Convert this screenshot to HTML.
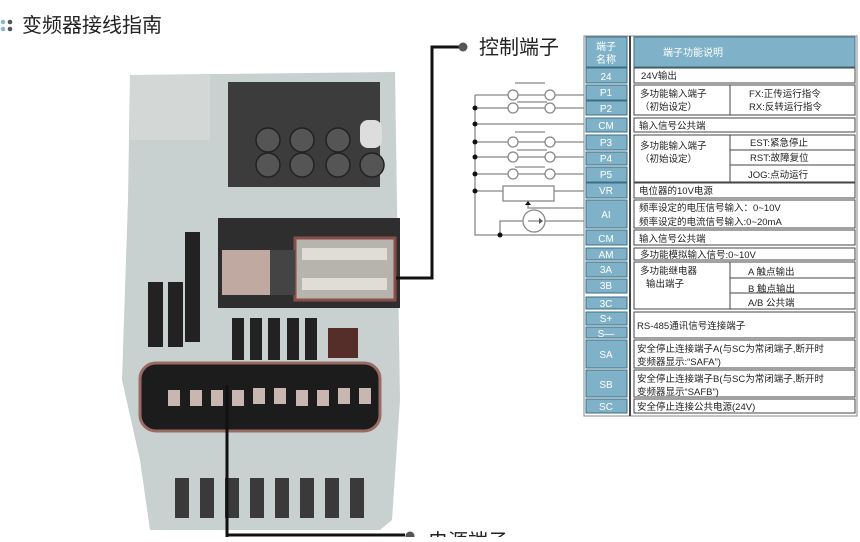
<!DOCTYPE html>
<html><head><meta charset="utf-8"><style>
body{margin:0;width:860px;height:537px;overflow:hidden;background:#fff;font-family:"Liberation Sans","Noto Sans CJK SC",sans-serif;}
</style></head><body>
<svg width="860" height="537" viewBox="0 0 860 537" xmlns="http://www.w3.org/2000/svg" font-family="Liberation Sans, Noto Sans CJK SC, sans-serif">
<!-- title -->
<circle cx="3" cy="22" r="2.3" fill="#8ab8cc"/><circle cx="3" cy="29" r="2.3" fill="#8ab8cc"/>
<circle cx="10" cy="22" r="2.3" fill="#555"/><circle cx="10" cy="29" r="2.3" fill="#555"/>
<text x="22" y="32" font-size="20" fill="#222">变频器接线指南</text>

<!-- device -->
<g>
<path d="M130 75 L395 72 L400 400 L392 520 L380 530 L150 530 L140 460 L122 380 L128 200 Z" fill="#c9d0d0"/>
<rect x="130" y="75" width="80" height="65" fill="#d3d8d6"/>
<rect x="228" y="82" width="152" height="105" fill="#3c3c3c"/>
<g fill="#555" stroke="#222" stroke-width="1.5">
<circle cx="268" cy="140" r="12"/><circle cx="302" cy="140" r="12"/><circle cx="338" cy="140" r="12"/>
<circle cx="268" cy="165" r="12"/><circle cx="302" cy="165" r="12"/><circle cx="338" cy="165" r="12"/><circle cx="372" cy="165" r="12"/>
</g>
<rect x="360" y="120" width="22" height="28" rx="8" fill="#ddd"/>
<rect x="218" y="218" width="182" height="90" fill="#2e2e2e"/>
<rect x="295" y="238" width="100" height="62" fill="#b7b3ad" stroke="#8a4e4a" stroke-width="3"/>
<rect x="302" y="248" width="85" height="12" fill="#e0dcd6"/><rect x="302" y="278" width="85" height="12" fill="#e0dcd6"/>
<rect x="222" y="250" width="50" height="45" fill="#c0a9a0"/>
<rect x="270" y="250" width="25" height="45" fill="#444"/>
<rect x="185" y="232" width="15" height="110" fill="#222"/>
<rect x="148" y="282" width="15" height="65" fill="#222"/><rect x="168" y="282" width="15" height="65" fill="#222"/>
<g fill="#222"><rect x="232" y="318" width="12" height="42"/><rect x="250" y="318" width="12" height="42"/><rect x="268" y="318" width="12" height="42"/><rect x="287" y="318" width="12" height="42"/><rect x="305" y="318" width="12" height="42"/></g>
<rect x="328" y="328" width="30" height="30" fill="#552e2a"/>
<rect x="140" y="363" width="240" height="68" rx="16" fill="#1c1c1c" stroke="#9a6a64" stroke-width="3"/>
<g fill="#c8b7b0">
<rect x="168" y="390" width="12" height="16"/><rect x="190" y="390" width="12" height="16"/><rect x="211" y="390" width="12" height="16"/><rect x="232" y="390" width="12" height="16"/><rect x="253" y="388" width="12" height="16"/><rect x="274" y="388" width="12" height="16"/><rect x="296" y="390" width="12" height="16"/><rect x="317" y="390" width="12" height="16"/><rect x="338" y="388" width="12" height="16"/><rect x="359" y="388" width="12" height="16"/>
</g>
<g fill="#3a3a3a"><rect x="175" y="478" width="14" height="40"/><rect x="200" y="478" width="14" height="40"/><rect x="225" y="478" width="14" height="40"/><rect x="250" y="478" width="14" height="40"/><rect x="275" y="478" width="14" height="40"/><rect x="300" y="478" width="14" height="40"/><rect x="325" y="478" width="14" height="40"/><rect x="350" y="478" width="14" height="40"/></g>
</g>

<!-- leaders -->
<g stroke="#111" stroke-width="3" fill="none">
<path d="M396 278 L432 278 L432 47 L460 47"/>
<path d="M227 385 L227 537"/>
<path d="M227 535 L405 535"/>
</g>
<circle cx="463" cy="47" r="4.5" fill="#555"/>
<circle cx="410" cy="536" r="4.5" fill="#555"/>
<text x="479" y="54" font-size="20" fill="#222">控制端子</text>
<text x="428" y="548" font-size="20" fill="#222">电源端子</text>

<!-- circuit -->
<g stroke="#888" stroke-width="1.3" fill="none">
<path d="M475 95 L475 235 L587 235"/>
<path d="M475 95 L508 95 M518 95 L545 95 M555 95 L587 95"/>
<path d="M475 108 L508 108 M518 108 L545 108 M555 108 L587 108"/>
<path d="M475 124 L587 124"/>
<path d="M475 142 L508 142 M518 142 L545 142 M555 142 L587 142"/>
<path d="M475 157 L508 157 M518 157 L545 157 M555 157 L587 157"/>
<path d="M475 174 L508 174 M518 174 L545 174 M555 174 L587 174"/>
<path d="M475 191 L503 191 M554 191 L587 191"/>
<rect x="503" y="186" width="51" height="15"/>
<path d="M528 204 L528 208 L587 208"/>
<circle cx="534" cy="221" r="11"/>
<path d="M500 235 L500 221 L523 221 M545 221 L587 221"/>
<path d="M528 221 L539 221"/>
<path d="M515 83 L545 83 M515 132 L545 132 M515 167 L545 167"/>
<path d="M517 102 L547 102 M517 150 L547 150"/>
</g>
<path d="M525 205 L531 205 L528 201 Z" fill="#111"/>
<path d="M539 218 L539 224 L543 221 Z" fill="#555"/>
<g fill="#fff" stroke="#888" stroke-width="1.3">
<circle cx="513" cy="95" r="5"/><circle cx="550" cy="95" r="5"/><circle cx="513" cy="108" r="5"/><circle cx="550" cy="108" r="5"/>
<circle cx="513" cy="142" r="5"/><circle cx="550" cy="142" r="5"/><circle cx="513" cy="157" r="5"/><circle cx="550" cy="157" r="5"/>
<circle cx="513" cy="174" r="5"/><circle cx="550" cy="174" r="5"/>
</g>
<g fill="#111"><circle cx="475" cy="108" r="2.5"/><circle cx="475" cy="124" r="2.5"/><circle cx="475" cy="142" r="2.5"/><circle cx="475" cy="157" r="2.5"/><circle cx="475" cy="174" r="2.5"/><circle cx="475" cy="191" r="2.5"/><circle cx="500" cy="235" r="2.5"/></g>

<!-- table -->
<rect x="584" y="36" width="273" height="380" fill="#fff" stroke="#888" stroke-width="1"/>
<line x1="630" y1="36" x2="630" y2="416" stroke="#444" stroke-width="2"/>
<g fill="#7fb2c8" stroke="#3d6e85" stroke-width="1">
<rect x="586" y="37" width="41" height="30"/>
<rect x="634" y="37" width="221" height="30"/>
<rect x="586" y="68" width="41" height="15"/><rect x="586" y="85" width="41" height="15"/><rect x="586" y="101" width="41" height="14"/>
<rect x="586" y="118" width="41" height="14"/><rect x="586" y="135" width="41" height="15"/><rect x="586" y="152" width="41" height="13"/>
<rect x="586" y="167" width="41" height="15"/><rect x="586" y="183" width="41" height="15"/><rect x="586" y="200" width="41" height="28"/>
<rect x="586" y="230" width="41" height="15"/><rect x="586" y="248" width="41" height="12"/><rect x="586" y="262" width="41" height="15"/>
<rect x="586" y="279" width="41" height="14"/><rect x="586" y="297" width="41" height="12"/><rect x="586" y="312" width="41" height="13"/>
<rect x="586" y="327" width="41" height="11"/><rect x="586" y="340" width="41" height="28"/><rect x="586" y="370" width="41" height="27"/>
<rect x="586" y="399" width="41" height="14"/>
</g>
<g fill="#fff" stroke="#444" stroke-width="1">
<rect x="634" y="68" width="221" height="15"/><rect x="634" y="85" width="221" height="30"/><rect x="634" y="118" width="221" height="14"/>
<rect x="634" y="135" width="221" height="47"/><rect x="634" y="183" width="221" height="15"/><rect x="634" y="200" width="221" height="28"/>
<rect x="634" y="230" width="221" height="15"/><rect x="634" y="248" width="221" height="12"/><rect x="634" y="262" width="221" height="47"/>
<rect x="634" y="312" width="221" height="26"/><rect x="634" y="340" width="221" height="28"/><rect x="634" y="370" width="221" height="27"/>
<rect x="634" y="399" width="221" height="14"/>
<path d="M730 85 L730 115 M730 135 L730 182 M730 150 L855 150 M730 165 L855 165 M730 262 L730 309 M730 293 L855 293 M730 278 L855 278" fill="none"/>
</g>
<g fill="#fff" font-size="10" text-anchor="middle">
<text x="606" y="50">端子</text><text x="606" y="63">名称</text>
<text x="606" y="80">24</text><text x="606" y="96">P1</text><text x="606" y="112">P2</text><text x="606" y="129">CM</text>
<text x="606" y="146">P3</text><text x="606" y="162">P4</text><text x="606" y="178">P5</text><text x="606" y="194">VR</text>
<text x="606" y="218">AI</text><text x="606" y="242">CM</text><text x="606" y="258">AM</text><text x="606" y="273">3A</text>
<text x="606" y="289">3B</text><text x="606" y="307">3C</text><text x="606" y="322">S+</text><text x="606" y="337">S—</text>
<text x="606" y="358">SA</text><text x="606" y="388">SB</text><text x="606" y="410">SC</text>
</g>
<text x="663" y="56" font-size="10" fill="#fff">端子功能说明</text>
<g fill="#222" font-size="9.5">
<text x="641" y="79">24V输出</text>
<text x="640" y="97">多功能输入端子</text><text x="640" y="110">（初始设定）</text>
<text x="749" y="97">FX:正传运行指令</text><text x="749" y="110">RX:反转运行指令</text>
<text x="639" y="129">输入信号公共端</text>
<text x="640" y="149">多功能输入端子</text><text x="640" y="162">（初始设定）</text>
<text x="750" y="146">EST:紧急停止</text><text x="750" y="161">RST:故障复位</text><text x="748" y="178">JOG:点动运行</text>
<text x="639" y="194">电位器的10V电源</text>
<text x="639" y="211">频率设定的电压信号输入：0~10V</text><text x="639" y="225">频率设定的电流信号输入:0~20mA</text>
<text x="639" y="242">输入信号公共端</text>
<text x="640" y="258">多功能模拟输入信号:0~10V</text>
<text x="640" y="274">多功能继电器</text><text x="646" y="287">输出端子</text>
<text x="748" y="275">A 触点输出</text><text x="748" y="292">B 触点输出</text><text x="748" y="306">A/B 公共端</text>
<text x="637" y="329">RS-485通讯信号连接端子</text>
<text x="637" y="352">安全停止连接端子A(与SC为常闭端子,断开时</text><text x="637" y="365">变频器显示:“SAFA”)</text>
<text x="637" y="382">安全停止连接端子B(与SC为常闭端子,断开时</text><text x="637" y="395">变频器显示“SAFB”)</text>
<text x="637" y="410">安全停止连接公共电源(24V)</text>
</g>
</svg>
</body></html>
